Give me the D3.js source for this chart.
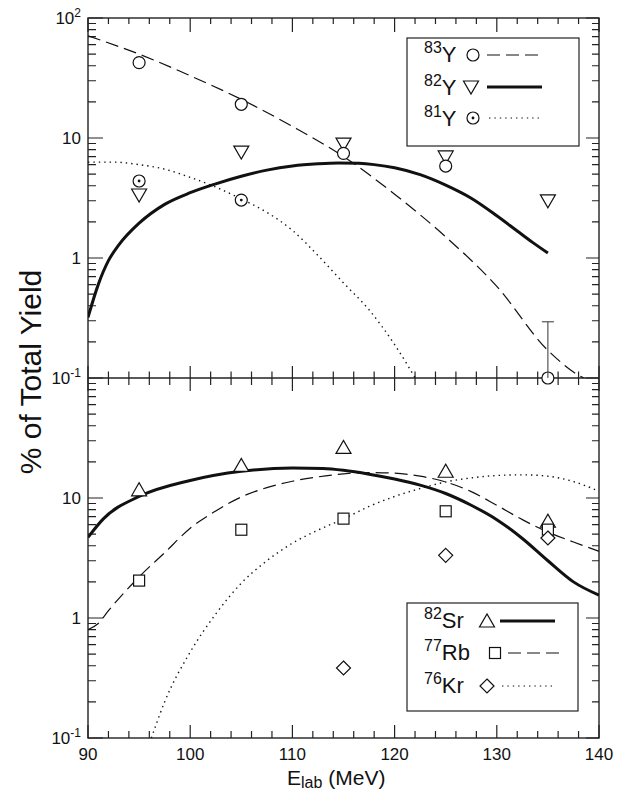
<!DOCTYPE html>
<html>
<head>
<meta charset="utf-8">
<script src="https://cdn.jsdelivr.net/npm/d3@7.9.0/dist/d3.min.js"></script>
<style>
  body { margin: 0; background: #fff; }
  svg { display: block; font-family: "Liberation Sans", Arial, sans-serif; }
</style>
</head>
<body>
<svg id="chart" width="625" height="792"></svg>
<script>
// measured points (% of total yield) at beam energies
const energies = [95, 105, 115, 125, 135];
const y83 = [42.5, 19.1, 7.45, 5.84, 0.1];
const y83errTop = 0.294;           // upper error bar of the 135 MeV 83Y point
const y82 = [3.35, 7.64, 8.9, 6.95, 2.99];
const y81Energies = [95, 105];
const y81 = [4.38, 3.04];
const sr82 = [11.7, 18.7, 26.4, 16.7, 6.4];
const rb77 = [2.05, 5.44, 6.73, 7.75, 5.45];
const kr76Energies = [115, 125, 135];
const kr76 = [0.383, 3.33, 4.64];

// calculated curves [E, %]
const curve83Y = [[90,71],[95,50],[100,33],[105,21],[110,12.5],[115,7],[120,3.4],[125,1.5],[130,0.58],[135,0.17],[138.5,0.1],[140,0.09]];
const curve82Y = [[90,0.32],[91,0.6],[92,0.95],[93,1.28],[95,1.95],[97.5,2.8],[100,3.5],[102.5,4.15],[105,4.8],[107.5,5.4],[110,5.85],[112.5,6.1],[114.5,6.2],[116.5,6.15],[118,6.0],[120,5.65],[122.5,4.95],[125,4.05],[127.5,3.15],[130,2.25],[132,1.68],[133.5,1.35],[135,1.1]];
const curve81Y = [[90,6.3],[92.5,6.3],[95,6.0],[97.5,5.5],[100,4.7],[102.5,3.9],[105,3.1],[107.5,2.4],[110,1.7],[112.5,1.05],[115,0.62],[117.5,0.37],[120,0.19],[122.5,0.085]];
const curveSr = [[90,4.7],[91.5,6.7],[95,10.3],[100,14],[105,16.7],[110,17.8],[113,17.6],[115,17.0],[117.5,15.8],[120,14.4],[122.5,12.8],[125,10.9],[127.5,8.7],[130,6.6],[132.5,4.6],[135,3.0],[137.5,2.0],[140,1.55]];
const curveRb = [[90,0.8],[91,0.9],[92,1.15],[95,2.2],[97.5,3.5],[100,5.6],[102.5,7.8],[105,10.2],[107.5,12.2],[110,13.8],[112.5,15.0],[115,15.9],[117.5,16.3],[120,16.1],[122.5,15.2],[125,13.6],[127.5,11.3],[130,8.7],[132.5,6.6],[135,5.2],[137.5,4.3],[140,3.6]];
const curveKr = [[96.2,0.1],[97.5,0.2],[100,0.52],[102.5,1.08],[105,1.95],[107.5,3.0],[110,4.2],[112.5,5.4],[115,6.7],[117.5,8.5],[120,10.3],[122.5,12.0],[125,13.6],[127.5,14.7],[130,15.4],[132.5,15.6],[135,15.2],[137.5,13.7],[140,11.4]];

const xTicks = d3.range(90, 141, 2);
const xLabels = [90, 100, 110, 120, 130, 140];

const svg = d3.select("#chart");
const L = 88, R = 599, T = 18, M = 378, B = 738;

const x = d3.scaleLinear().domain([90, 140]).range([L, R]);
const yTop = d3.scaleLog().domain([0.1, 100]).range([M, T]);
const yBot = d3.scaleLog().domain([0.1, 100]).range([B, M]);

const dashed = "13,6", dotted = "1.4,4";

// clip paths
const defs = svg.append("defs");
defs.append("clipPath").attr("id", "clipTop").append("rect")
  .attr("x", L).attr("y", T).attr("width", R - L).attr("height", M - T);
defs.append("clipPath").attr("id", "clipBot").append("rect")
  .attr("x", L).attr("y", M).attr("width", R - L).attr("height", B - M);

// minor log ticks 0.1..100
const yTickVals = [];
for (let e = -1; e < 2; e++) for (let m = 1; m < 10; m++) yTickVals.push(m * Math.pow(10, e));
yTickVals.push(100);

const frame = svg.append("g").attr("stroke", "#222").attr("fill", "none");
frame.append("rect").attr("x", L).attr("y", T).attr("width", R - L).attr("height", B - T).attr("stroke-width", 1.4);
frame.append("line").attr("x1", L).attr("x2", R).attr("y1", M).attr("y2", M).attr("stroke-width", 1.4);

function tickPath(list) {
  return list.map(d => `M${d[0]},${d[1]}L${d[2]},${d[3]}`).join("");
}

// x ticks on top, middle (both sides), bottom
const segs = [];
xTicks.forEach(v => {
  const px = x(v), major = v % 10 === 0;
  segs.push([px, T, px, T + (major ? 14 : 6)]);
  segs.push([px, M, px, M - (major ? 12 : 6.5)]);
  segs.push([px, M, px, M + (major ? 13 : 7)]);
  segs.push([px, B, px, B - (major ? 13 : 7)]);
});
[yTop, yBot].forEach(y => {
  yTickVals.forEach(v => {
    const py = y(v), major = Math.abs(Math.log10(v) - Math.round(Math.log10(v))) < 1e-9;
    segs.push([L, py, L + (major ? 15 : 8), py]);
    segs.push([R, py, R - (major ? 13 : 7), py]);
  });
});
frame.append("path").attr("d", tickPath(segs)).attr("stroke-width", 1.2);

// y tick labels
function yLabel(v, py) {
  const e = Math.round(Math.log10(v));
  const t = svg.append("text").attr("x", 81).attr("y", py + 6)
    .attr("text-anchor", "end").attr("font-size", 17).attr("fill", "#111");
  if (e === 0) t.text("1");
  else if (e === 1) t.text("10");
  else {
    t.append("tspan").text("10");
    t.append("tspan").attr("font-size", 12).attr("dy", -7).text(e < 0 ? "-" + (-e) : e);
  }
}
[100, 10, 1, 0.1].forEach(v => yLabel(v, yTop(v)));
[10, 1, 0.1].forEach(v => yLabel(v, yBot(v)));

// x tick labels
svg.append("g").selectAll("text").data(xLabels).join("text")
  .attr("x", d => x(d)).attr("y", 760).attr("text-anchor", "middle")
  .attr("font-size", 17).attr("fill", "#111").text(d => d);

// axis titles
svg.append("text").attr("transform", `translate(41,${(T + B) / 2 - 6}) rotate(-90)`)
  .attr("text-anchor", "middle").attr("font-size", 30).attr("fill", "#111")
  .text("% of Total Yield");
const xt = svg.append("text").attr("x", 287).attr("y", 785).attr("font-size", 21).attr("fill", "#111");
xt.append("tspan").text("E");
xt.append("tspan").attr("font-size", 16).attr("dy", 3).text("lab");
xt.append("tspan").attr("dy", -3).text(" (MeV)");

// curves
function drawCurve(data, y, clip, width, dash) {
  const line = d3.line().x(d => x(d[0])).y(d => y(d[1])).curve(d3.curveMonotoneX);
  svg.append("path").datum(data).attr("d", line)
    .attr("clip-path", `url(#${clip})`)
    .attr("fill", "none").attr("stroke", "#111")
    .attr("stroke-width", width)
    .attr("stroke-dasharray", dash);
}
drawCurve(curve83Y, yTop, "clipTop", 1.2, dashed);
drawCurve(curve82Y, yTop, "clipTop", 3, null);
drawCurve(curve81Y, yTop, "clipTop", 1.4, dotted);
drawCurve(curveSr, yBot, "clipBot", 3, null);
drawCurve(curveRb, yBot, "clipBot", 1.2, dashed);
drawCurve(curveKr, yBot, "clipBot", 1.4, dotted);

// legend boxes (under their markers)
function legendBox(x0, y0, w, h) {
  svg.append("rect").attr("x", x0).attr("y", y0).attr("width", w).attr("height", h)
    .attr("fill", "#fff").attr("stroke", "#222").attr("stroke-width", 1.2);
}
legendBox(407, 38, 172, 108);
legendBox(407, 603, 171, 108);

// markers
const g = svg.append("g").attr("fill", "#fff").attr("stroke", "#111").attr("stroke-width", 1.2);
function marker(kind, px, py) {
  if (kind === "circle" || kind === "dotcircle") {
    g.append("circle").attr("cx", px).attr("cy", py).attr("r", 6);
    if (kind === "dotcircle") g.append("circle").attr("cx", px).attr("cy", py).attr("r", 1.4).attr("fill", "#111").attr("stroke", "none");
  } else if (kind === "tdown") {
    g.append("path").attr("d", `M${px - 7.5},${py - 6}L${px + 7.5},${py - 6}L${px},${py + 7}Z`);
  } else if (kind === "tup") {
    g.append("path").attr("d", `M${px - 7.5},${py + 6}L${px + 7.5},${py + 6}L${px},${py - 7}Z`);
  } else if (kind === "square") {
    g.append("rect").attr("x", px - 5.5).attr("y", py - 5.5).attr("width", 11).attr("height", 11);
  } else if (kind === "diamond") {
    g.append("path").attr("d", `M${px},${py - 7}L${px + 7},${py}L${px},${py + 7}L${px - 7},${py}Z`);
  }
}
// error bar for 135 MeV 83Y point
const eb = y83errTop, ex = x(energies[4]);
svg.append("path").attr("d", `M${ex},${yTop(y83[4])}L${ex},${yTop(eb)}M${ex - 6},${yTop(eb)}L${ex + 6},${yTop(eb)}`)
  .attr("stroke", "#333").attr("stroke-width", 1).attr("fill", "none");

energies.forEach((e, i) => marker("tdown", x(e), yTop(y82[i])));
energies.forEach((e, i) => marker("circle", x(e), yTop(y83[i])));
y81Energies.forEach((e, i) => marker("dotcircle", x(e), yTop(y81[i])));
energies.forEach((e, i) => marker("tup", x(e), yBot(sr82[i])));
energies.forEach((e, i) => marker("square", x(e), yBot(rb77[i])));
kr76Energies.forEach((e, i) => marker("diamond", x(e), yBot(kr76[i])));

// legend entries
function legendText(mass, sym, px, base) {
  const t = svg.append("text").attr("x", px).attr("y", base).attr("font-size", 22).attr("fill", "#111");
  t.append("tspan").attr("font-size", 16).attr("dy", -9).text(mass);
  t.append("tspan").attr("dy", 9).text(sym);
}
function legendLine(x1, x2, yy, width, dash) {
  svg.append("line").attr("x1", x1).attr("x2", x2).attr("y1", yy).attr("y2", yy)
    .attr("stroke", "#111").attr("stroke-width", width).attr("stroke-dasharray", dash);
}

legendText("83", "Y", 424, 62);
legendText("82", "Y", 424, 95);
legendText("81", "Y", 424, 126);
marker("circle", 473, 55);
marker("tdown", 471, 87);
marker("dotcircle", 473, 118);
legendLine(487, 542, 55, 1.2, dashed);
legendLine(487, 542, 87, 3, null);
legendLine(489, 542, 118, 1.2, dotted);

legendText("82", "Sr", 424, 628);
legendText("77", "Rb", 424, 660);
legendText("76", "Kr", 424, 693);
marker("tup", 487, 621);
marker("square", 495, 653);
marker("diamond", 487, 686);
legendLine(500, 555, 621, 3, null);
legendLine(508, 563, 653, 1.2, dashed);
legendLine(502, 555, 686, 1.2, dotted);
</script>
</body>
</html>
